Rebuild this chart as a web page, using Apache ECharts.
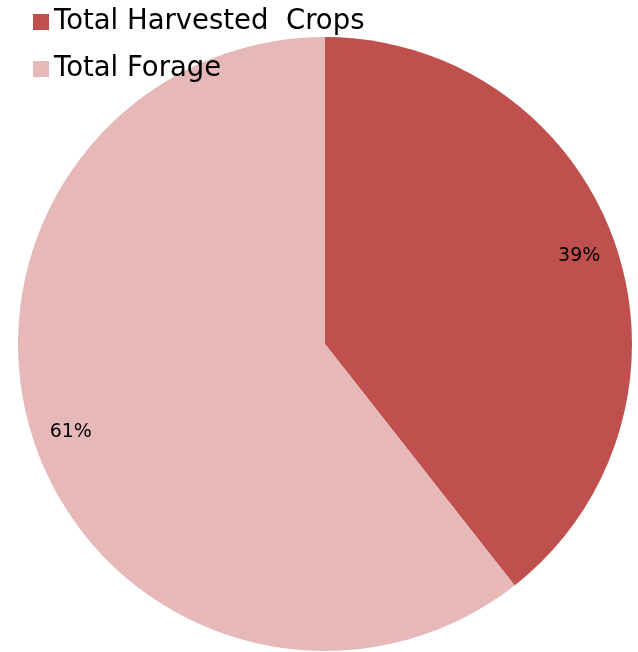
<!DOCTYPE html>
<html>
<head>
<meta charset="utf-8">
<script src="https://cdn.jsdelivr.net/npm/echarts@6/dist/echarts.min.js"></script>
<style>
  html, body { margin: 0; padding: 0; background: #fff; }
  #main { width: 638px; height: 652px; }
</style>
</head>
<body>
<div id="main"></div>
<script>
var categories = ['Total Harvested  Crops', 'Total Forage'];
var shares = [39.4, 60.6];
var colors = ['#C0504D', '#E6B9B8'];

var chartDom = document.getElementById('main');
var myChart = echarts.init(chartDom);

var pieData = categories.map(function (name, i) {
    return { name: name, value: shares[i], itemStyle: { color: colors[i] } };
});

var option = {
    backgroundColor: '#ffffff',
    animation: false,
    legend: {
        orient: 'vertical',
        left: 28,
        top: 2,
        itemWidth: 16,
        itemHeight: 16,
        itemGap: 17,
        icon: 'rect',
        data: categories,
        textStyle: {
            fontFamily: 'DejaVu Sans',
            fontSize: 27.5,
            lineHeight: 30,
            color: '#000'
        }
    },
    series: [
        {
            type: 'pie',
            center: [325, 344],
            radius: [0, 307],
            startAngle: 90,
            clockwise: true,
            silent: true,
            label: { show: false },
            labelLine: { show: false },
            itemStyle: { borderWidth: 0 },
            data: pieData
        },
        {
            // transparent ring only used to place the percent labels
            type: 'pie',
            center: [325, 344],
            radius: [225, 307],
            startAngle: 90,
            clockwise: true,
            silent: true,
            legendHoverLink: false,
            itemStyle: { color: 'rgba(0,0,0,0)', borderWidth: 0 },
            label: {
                show: true,
                position: 'inside',
                fontFamily: 'DejaVu Sans',
                fontSize: 19,
                color: '#000',
                formatter: function (p) {
                    return Math.round(p.percent) + '%';
                }
            },
            labelLine: { show: false },
            data: categories.map(function (name, i) {
                return { name: name + ' ', value: shares[i] };
            })
        }
    ]
};

myChart.setOption(option);
</script>
</body>
</html>
